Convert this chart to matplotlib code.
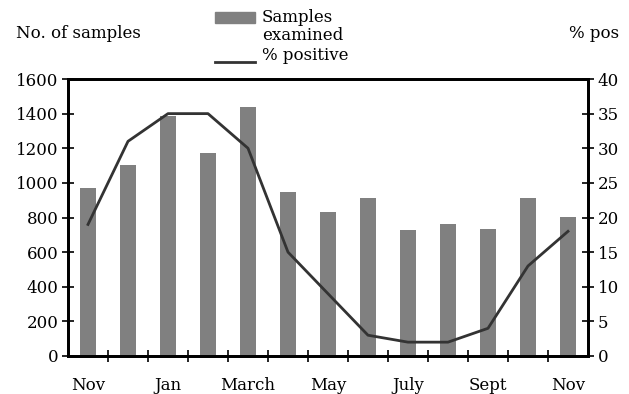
import numpy as np
import matplotlib
matplotlib.use("Agg")
import matplotlib.pyplot as plt
from matplotlib.patches import Rectangle
from matplotlib.lines import Line2D

plt.rcParams['font.family'] = 'DejaVu Serif'
FS = 12

# monthly data, Nov to Nov
months = ["Nov", "Dec", "Jan", "Feb", "March", "Apr", "May", "June",
          "July", "Aug", "Sept", "Oct", "Nov"]
samples = [970, 1105, 1385, 1170, 1440, 950, 830, 910, 730, 765, 735, 910, 805]
pct_positive = [19, 31, 35, 35, 30, 15, 9, 3, 2, 2, 4, 13, 18]
shown_labels = ["Nov", "Jan", "March", "May", "July", "Sept", "Nov"]

fig = plt.figure(figsize=(6.29, 3.94), dpi=100)
ax = fig.add_axes([68 / 629, 1 - 356 / 394, 520 / 629, 277 / 394])
x = np.arange(len(months))
ax.bar(x, samples, width=0.42, color="#808080", zorder=1)
ax.set_xlim(-0.5, len(months) - 0.5)
ax.set_ylim(0, 1600)
ax.set_yticks(range(0, 1601, 200))

ax2 = ax.twinx()
ax2.plot(x, pct_positive, color="#333333", lw=2)
ax2.set_ylim(0, 40)
ax2.set_yticks(range(0, 41, 5))

# labels at every other month, tick marks at category boundaries
ax.set_xticks(x[::2])
ax.set_xticklabels(shown_labels)
ax.tick_params(axis="x", length=0, pad=15, labelsize=FS)
ax.set_xticks(np.arange(0.5, len(months) - 0.5, 1), minor=True)
ax.tick_params(axis="x", which="minor", direction="inout", length=9, width=1.2)
ax.tick_params(axis="y", direction="inout", length=8, width=1.2, labelsize=FS, pad=3)
ax2.tick_params(axis="y", direction="inout", length=8, width=1.2, labelsize=FS, pad=3)

for a in (ax, ax2):
    for s in a.spines.values():
        s.set_linewidth(2)
        s.set_color("black")

fig.text(16 / 629, 1 - 33 / 394, "No. of samples", fontsize=FS, va="center")
fig.text(569 / 629, 1 - 33 / 394, "% pos", fontsize=FS, va="center")

# legend drawn by hand
fig.patches.append(Rectangle((215 / 629, 1 - 23 / 394), 40 / 629, 11 / 394,
                             transform=fig.transFigure, color="#808080"))
fig.lines.append(Line2D([215 / 629, 255 / 629], [1 - 62 / 394, 1 - 62 / 394],
                        transform=fig.transFigure, color="#333333", lw=2))
fig.text(262 / 629, 1 - 17 / 394, "Samples", fontsize=FS, va="center")
fig.text(262 / 629, 1 - 36 / 394, "examined", fontsize=FS, va="center")
fig.text(262 / 629, 1 - 55 / 394, "% positive", fontsize=FS, va="center")

fig.savefig("out.png", dpi=100)
